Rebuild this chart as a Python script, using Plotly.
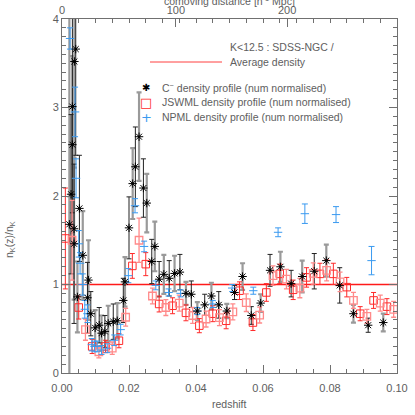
import plotly.graph_objects as go

# ---------------- data ----------------
# C- density profile (num normalised)
cm_z = [0.0022, 0.0027, 0.0031, 0.0031, 0.0036, 0.0036, 0.0037, 0.0041, 0.0046, 0.0052,
        0.0062, 0.0076, 0.0079, 0.0086, 0.0099, 0.0111, 0.0118, 0.0128, 0.0138, 0.0153,
        0.0165, 0.0183, 0.0188, 0.0200, 0.0211, 0.0219, 0.0230, 0.0243, 0.0253, 0.0268,
        0.0277, 0.0290, 0.0304, 0.0320, 0.0336, 0.0352, 0.0370, 0.0386, 0.0404, 0.0426,
        0.0446, 0.0468, 0.0492, 0.0515, 0.0539, 0.0565, 0.0593, 0.0621, 0.0652, 0.0684,
        0.0717, 0.0753, 0.0789, 0.0829, 0.0870, 0.0914, 0.0959]
cm_v = [1.68, 2.02, 2.58, 3.01, 1.63, 1.46, 3.52, 3.66, 0.86, 1.86,
        1.33, 0.85, 1.05, 0.67, 0.51, 0.54, 0.45, 0.47, 0.56, 0.58,
        0.59, 0.82, 1.03, 1.64, 2.14, 2.33, 2.67, 2.09, 1.92, 1.26,
        1.43, 1.06, 1.115, 1.07, 1.125, 1.14, 0.90, 0.89, 0.70, 0.77,
        0.87, 0.77, 0.70, 0.91, 1.09, 0.65, 0.79, 1.16, 1.20, 1.01,
        1.09, 1.15, 1.27, 0.99, 0.67, 0.54, 0.57]
cm_e = [2.40, 0.90, 1.00, 1.20, 0.80, 0.90, 1.20, 1.20, 0.40, 0.60,
        0.50, 0.40, 0.45, 0.25, 0.20, 0.20, 0.20, 0.18, 0.20, 0.20,
        0.20, 0.25, 0.28, 0.35, 0.40, 0.45, 0.50, 0.33, 0.33, 0.25,
        0.28, 0.20, 0.22, 0.20, 0.20, 0.20, 0.13, 0.15, 0.10, 0.12,
        0.15, 0.15, 0.08, 0.08, 0.15, 0.10, 0.10, 0.18, 0.17, 0.15,
        0.18, 0.20, 0.18, 0.20, 0.10, 0.08, 0.10]

# JSWML density profile (num normalised)
js_z = [0.001, 0.003, 0.005, 0.007, 0.009, 0.011, 0.013, 0.015, 0.017, 0.019,
        0.021, 0.023, 0.025, 0.027, 0.029, 0.031, 0.033, 0.035, 0.037, 0.039,
        0.041, 0.043, 0.045, 0.047, 0.049, 0.051, 0.053, 0.055, 0.057, 0.059,
        0.061, 0.063, 0.065, 0.067, 0.069, 0.071, 0.073, 0.075, 0.077, 0.079,
        0.081, 0.083, 0.085, 0.087, 0.089, 0.091, 0.093, 0.095, 0.097, 0.099]
js_v = [1.52, 1.50, 0.74, 0.49, 0.30, 0.24, 0.30, 0.28, 0.365, 0.63,
        1.21, 1.50, 1.23, 0.87, 0.78, 0.74, 0.76, 0.79, 0.68, 0.65,
        0.535, 0.61, 0.67, 0.625, 0.59, 0.69, 0.93, 0.795, 0.57, 0.655,
        0.91, 1.10, 1.12, 1.06, 0.94, 0.96, 1.08, 1.125, 1.12, 1.16,
        1.12, 1.03, 0.97, 0.82, 0.67, 0.64, 0.82, 0.79, 0.75, 0.72]
js_e = [0.57, 0.45, 0.13, 0.12, 0.08, 0.07, 0.07, 0.07, 0.08, 0.10,
        0.14, 0.25, 0.13, 0.09, 0.09, 0.09, 0.09, 0.09, 0.09, 0.09,
        0.08, 0.09, 0.09, 0.09, 0.09, 0.09, 0.10, 0.10, 0.09, 0.09,
        0.10, 0.11, 0.11, 0.11, 0.11, 0.11, 0.11, 0.12, 0.12, 0.12,
        0.12, 0.11, 0.11, 0.09, 0.08, 0.08, 0.09, 0.09, 0.09, 0.09]

# NPML density profile (num normalised)
np_z = [0.0024, 0.0039, 0.0042, 0.0050, 0.0054, 0.0062, 0.0068, 0.0076, 0.0089, 0.0097,
        0.0105, 0.0118, 0.0135, 0.0156, 0.0175, 0.0198, 0.0218, 0.0245, 0.0280, 0.0318,
        0.0354, 0.0404, 0.0450, 0.0508, 0.0571, 0.0645, 0.0725, 0.0818, 0.0924]
np_v = [3.78, 2.95, 2.20, 1.46, 1.24, 1.00, 0.72, 0.67, 0.32, 0.30,
        0.30, 0.26, 0.28, 0.37, 0.49, 1.10, 1.89, 1.43, 0.99, 0.91,
        0.90, 0.70, 0.78, 0.96, 0.93, 1.59, 1.80, 1.79, 1.27]
np_e = [0.12, 0.28, 0.22, 0.15, 0.12, 0.12, 0.10, 0.10, 0.07, 0.06,
        0.06, 0.05, 0.05, 0.06, 0.06, 0.08, 0.08, 0.06, 0.05, 0.04,
        0.04, 0.04, 0.04, 0.04, 0.04, 0.05, 0.11, 0.09, 0.16]

avg_z = [0.0, 0.1]
avg_v = [1.0, 1.0]

# top axis: comoving distance [h^-1 Mpc] -> redshift
top_dist = [0, 100, 200]
top_z = [0.0, 0.0340, 0.0672]

xticks = [0.00, 0.02, 0.04, 0.06, 0.08, 0.10]
yticks = [0, 1, 2, 3, 4]

# ---------------- figure ----------------
TXT = "#5e5e5e"
AX = "#707070"
FONT = "Liberation Sans"

fig = go.Figure()

# average density line
fig.add_trace(go.Scatter(x=avg_z, y=avg_v, mode="lines",
                         line=dict(color="#ff1a1a", width=1.6), hoverinfo="skip"))

# C- error bars: alternate grey thick / black thin
ev = list(range(0, len(cm_z), 2))
od = list(range(1, len(cm_z), 2))
fig.add_trace(go.Scatter(x=[cm_z[i] for i in ev], y=[cm_v[i] for i in ev], mode="markers",
                         marker=dict(size=1, color="rgba(0,0,0,0)"),
                         error_y=dict(type="data", array=[cm_e[i] for i in ev],
                                      color="#9a9a9a", thickness=2.2, width=2.5)))
fig.add_trace(go.Scatter(x=[cm_z[i] for i in od], y=[cm_v[i] for i in od], mode="markers",
                         marker=dict(size=1, color="rgba(0,0,0,0)"),
                         error_y=dict(type="data", array=[cm_e[i] for i in od],
                                      color="#222222", thickness=1.0, width=2.5)))

# JSWML: alternate bright / light red
fig.add_trace(go.Scatter(x=js_z[0::2], y=js_v[0::2], mode="markers",
                         marker=dict(symbol="square-open", size=7.5, color="#ff2a2a",
                                     line=dict(width=1.0, color="#ff2a2a")),
                         error_y=dict(type="data", array=js_e[0::2],
                                      color="#ff2a2a", thickness=1.0, width=2.5)))
fig.add_trace(go.Scatter(x=js_z[1::2], y=js_v[1::2], mode="markers",
                         marker=dict(symbol="square-open", size=7.5, color="#ff8a8a",
                                     line=dict(width=1.3, color="#ff8a8a")),
                         error_y=dict(type="data", array=js_e[1::2],
                                      color="#ff8a8a", thickness=1.3, width=2.5)))

# NPML
fig.add_trace(go.Scatter(x=np_z, y=np_v, mode="markers",
                         marker=dict(symbol="line-ew", size=6, color="#3a9af0",
                                     line=dict(width=1.0, color="#3a9af0")),
                         error_y=dict(type="data", array=np_e,
                                      color="#3a9af0", thickness=1.0, width=3)))

# C- markers
fig.add_trace(go.Scatter(x=cm_z, y=cm_v, mode="markers",
                         marker=dict(symbol="asterisk-open", size=7, color="#000000",
                                     line=dict(width=1.0, color="#000000"))))
fig.add_trace(go.Scatter(x=cm_z, y=cm_v, mode="markers",
                         marker=dict(symbol="circle", size=2.5, color="#000000")))

# dummy trace for the top axis
fig.add_trace(go.Scatter(x=avg_z, y=avg_v, xaxis="x2", mode="lines",
                         line=dict(width=0, color="rgba(0,0,0,0)"), hoverinfo="skip"))

# ---------------- legend (annotations) ----------------
def px2paper(px, py):
    return (px - 62) / 335.0, (373 - py) / 354.0

lf = dict(family=FONT, size=10.5, color=TXT)
ann = []
for text, (px, py) in [("K<12.5 : SDSS-NGC /", (228, 47)),
                       ("Average density", (228, 62)),
                       ("C<sup>−</sup> density profile (num normalised)", (160, 87)),
                       ("JSWML density profile (num normalised)", (160, 102)),
                       ("NPML density profile (num normalised)", (160, 117))]:
    x, y = px2paper(px, py)
    ann.append(dict(x=x, y=y, xref="paper", yref="paper", text=text, showarrow=False,
                    xanchor="left", yanchor="middle", font=lf))
for sym, col, sz, (px, py) in [("✱", "#000000", 10, (146, 87)),
                               ("□", "#ff2a2a", 13, (146, 102)),
                               ("+", "#3a9af0", 13, (146, 117))]:
    x, y = px2paper(px, py)
    ann.append(dict(x=x, y=y, xref="paper", yref="paper", text=sym, showarrow=False,
                    xanchor="center", yanchor="middle",
                    font=dict(family="DejaVu Sans", size=sz, color=col)))
# axis titles
bx, by = px2paper(229, 404)
ann.append(dict(x=bx, y=by, xref="paper", yref="paper", text="redshift", showarrow=False,
                xanchor="center", yanchor="middle", font=dict(family=FONT, size=10.5, color=TXT)))
tx, ty = px2paper(229, 1)
ann.append(dict(x=tx, y=ty, xref="paper", yref="paper",
                text="comoving distance [h<sup>-1</sup> Mpc]", showarrow=False,
                xanchor="center", yanchor="middle", font=dict(family=FONT, size=10.5, color=TXT)))
yx, yy = px2paper(10, 240)
ann.append(dict(x=yx, y=yy, xref="paper", yref="paper",
                text="n<sub>K</sub>(z)/n<sub>K</sub>", showarrow=False, textangle=-90,
                xanchor="center", yanchor="middle", font=dict(family=FONT, size=10.5, color=TXT)))

lx0, ly = px2paper(150, 62)
lx1, _ = px2paper(222, 62)
shapes = [dict(type="line", xref="paper", yref="paper", x0=lx0, x1=lx1, y0=ly, y1=ly,
               line=dict(color="#ff4040", width=1))]

tickfont = dict(family=FONT, size=11, color=TXT)
fig.update_layout(
    template="none",
    width=415, height=415,
    margin=dict(l=62, r=18, t=19, b=42, autoexpand=False),
    paper_bgcolor="white", plot_bgcolor="white",
    showlegend=False,
    annotations=ann, shapes=shapes,
    xaxis=dict(range=[0, 0.1], tickvals=xticks, ticktext=["%.2f" % v for v in xticks],
               ticks="inside", ticklen=8, tickcolor=AX, showline=True, linecolor=AX,
               linewidth=1, mirror=False, showgrid=False, zeroline=False, tickfont=tickfont,
               automargin=False, ticklabelstandoff=5,
               minor=dict(tick0=0, dtick=0.005, ticks="inside", ticklen=4, tickcolor=AX,
                          showgrid=False)),
    xaxis2=dict(range=[0, 0.1], overlaying="x", side="top", tickvals=top_z,
                ticktext=[str(v) for v in top_dist], ticks="inside", ticklen=8, tickcolor=AX,
                showline=True, linecolor=AX, linewidth=1, showgrid=False, zeroline=False,
                tickfont=tickfont, automargin=False,
                minor=dict(tick0=0, dtick=0.005, ticks="inside", ticklen=4, tickcolor=AX,
                           showgrid=False)),
    yaxis=dict(range=[0, 4], tickvals=yticks, ticks="inside", ticklen=8, tickcolor=AX,
               showline=True, linecolor=AX, linewidth=1, mirror="ticks", showgrid=False,
               zeroline=False, tickfont=tickfont, automargin=False,
               minor=dict(tick0=0, dtick=0.1, ticks="inside", ticklen=4, tickcolor=AX,
                          showgrid=False)),
)

fig.write_html("out.html", config={"displayModeBar": False},
               post_script="document.body.style.margin='0';document.body.style.overflow='hidden';")
